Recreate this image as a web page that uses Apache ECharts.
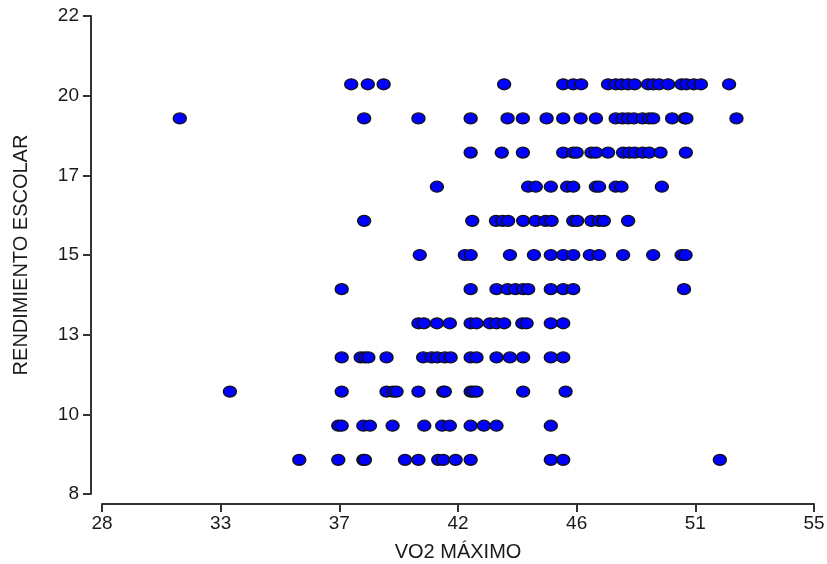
<!DOCTYPE html>
<html>
<head>
<meta charset="utf-8">
<script src="https://cdn.jsdelivr.net/npm/echarts@6/dist/echarts.min.js"></script>
<style>
html,body{margin:0;padding:0;background:#fff;overflow:hidden;}
#chart{width:827px;height:564px;}
</style>
</head>
<body>
<div id="chart"></div>
<script>
// Axis ticks (evenly spaced; labels shown rounded)
const xTicks = [28, 32.5, 37, 41.5, 46, 50.5, 55];
const yTicks = [8, 10.3333, 12.6667, 15, 17.3333, 19.6667, 22];

// VO2 MÁXIMO values for each RENDIMIENTO ESCOLAR level
const score20 = [37.45, 38.08, 38.68, 43.25, 45.49, 45.87, 46.17, 47.19, 47.48, 47.70, 47.95, 48.20, 48.71, 48.90, 49.13, 49.47, 49.98, 50.16, 50.44, 50.71, 51.78];
const score19 = [30.95, 37.94, 40.00, 41.98, 43.38, 43.96, 44.86, 45.49, 46.15, 46.73, 47.48, 47.74, 47.95, 48.17, 48.50, 48.75, 48.90, 49.62, 50.10, 50.16, 52.06];
const score18 = [41.98, 43.16, 43.96, 45.49, 45.87, 46.00, 46.56, 46.73, 47.19, 47.76, 47.99, 48.20, 48.50, 48.75, 49.18, 50.14];
const score17 = [40.70, 44.16, 44.45, 45.02, 45.64, 45.87, 46.73, 46.85, 47.48, 47.70, 49.23];
const score16 = [37.94, 42.04, 42.94, 43.19, 43.40, 43.97, 44.44, 44.82, 45.05, 45.87, 46.02, 46.56, 46.85, 47.03, 47.95];
const score15 = [40.05, 41.76, 41.98, 43.47, 44.38, 45.02, 45.49, 45.87, 46.50, 46.85, 47.76, 48.90, 49.98, 50.13];
const score14 = [37.09, 41.98, 42.96, 43.38, 43.68, 43.97, 44.16, 45.02, 45.49, 45.87, 50.07];
const score13 = [40.00, 40.21, 40.70, 41.19, 41.98, 42.20, 42.71, 42.96, 43.25, 43.94, 44.10, 45.02, 45.49];
const score12 = [37.09, 37.81, 37.97, 38.10, 38.79, 40.18, 40.50, 40.71, 41.00, 41.22, 41.98, 42.20, 42.96, 43.47, 43.97, 45.02, 45.49];
const score11 = [32.85, 37.09, 38.79, 39.04, 39.17, 40.00, 40.94, 41.00, 41.98, 42.08, 42.20, 43.97, 45.58];
const score10 = [36.96, 37.09, 37.91, 38.16, 39.02, 40.22, 40.90, 41.19, 41.98, 42.48, 42.96, 45.02];
const score9  = [35.48, 36.96, 37.91, 37.97, 39.49, 40.00, 40.75, 40.94, 41.41, 41.98, 45.02, 45.49, 51.43];

const levels = [20, 19, 18, 17, 16, 15, 14, 13, 12, 11, 10, 9];
const rows = [score20, score19, score18, score17, score16, score15, score14, score13, score12, score11, score10, score9];

const points = [];
levels.forEach((lv, i) => rows[i].forEach(x => points.push([x, lv])));

const chart = echarts.init(document.getElementById('chart'), null, {renderer: 'canvas', width: 827, height: 564});
const txt = '#1a1a1a';
const lineCol = '#333333';
const font = 'Liberation Sans, Arial, sans-serif';
chart.setOption({
  animation: false,
  backgroundColor: '#ffffff',
  grid: {left: 102, right: 13, top: 16, bottom: 70, containLabel: false, outerBoundsMode: 'none'},
  xAxis: {
    type: 'value', min: 28, max: 55, offset: 10,
    name: 'VO2 MÁXIMO', nameLocation: 'middle', nameGap: 38,
    nameTextStyle: {fontFamily: font, fontSize: 20, color: txt},
    axisLine: {show: true, lineStyle: {color: lineCol, width: 2}},
    axisTick: {show: true, length: 8, lineStyle: {color: lineCol, width: 2}, customValues: xTicks},
    axisLabel: {customValues: xTicks, formatter: v => String(Math.round(v)), margin: 10,
      fontFamily: font, fontSize: 19, color: txt},
    splitLine: {show: false}
  },
  yAxis: {
    type: 'value', min: 8, max: 22, offset: 11,
    name: 'RENDIMIENTO ESCOLAR', nameLocation: 'middle', nameGap: 60, nameRotate: 90,
    nameTextStyle: {fontFamily: font, fontSize: 20, color: txt},
    axisLine: {show: true, lineStyle: {color: lineCol, width: 2}},
    axisTick: {show: true, length: 8, lineStyle: {color: lineCol, width: 2}, customValues: yTicks},
    axisLabel: {customValues: yTicks, formatter: v => String(Math.round(v)), margin: 12,
      fontFamily: font, fontSize: 19, color: txt},
    splitLine: {show: false}
  },
  series: [{
    type: 'scatter',
    data: points,
    symbol: 'circle',
    symbolSize: [13, 11],
    itemStyle: {color: '#0000ff', borderColor: '#111111', borderWidth: 1.3, opacity: 1}
  }]
});
</script>
</body>
</html>
